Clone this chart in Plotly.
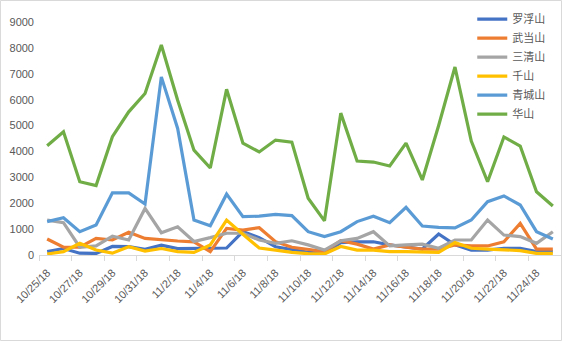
import plotly.graph_objects as go

dates = ["10/25/18","10/26/18","10/27/18","10/28/18","10/29/18","10/30/18","10/31/18",
         "11/1/18","11/2/18","11/3/18","11/4/18","11/5/18","11/6/18","11/7/18","11/8/18",
         "11/9/18","11/10/18","11/11/18","11/12/18","11/13/18","11/14/18","11/15/18",
         "11/16/18","11/17/18","11/18/18","11/19/18","11/20/18","11/21/18","11/22/18",
         "11/23/18","11/24/18","11/25/18"]

luofushan = [130, 250, 70, 60, 330, 320, 220, 380, 250, 250, 260, 270, 900, 670, 320, 200,
             100, 60, 480, 510, 510, 390, 300, 230, 810, 390, 190, 190, 260, 260, 130, 130]
wudangshan = [620, 300, 300, 640, 580, 875, 640, 580, 540, 510, 130, 1030, 965, 1055, 515, 300,
              230, 130, 550, 420, 230, 390, 300, 230, 230, 390, 350, 350, 510, 1220, 230, 230]
sanqingshan = [1350, 1250, 300, 350, 730, 580, 1800, 860, 1090, 520, 670, 840, 840, 580, 450, 550,
               390, 190, 550, 640, 900, 350, 390, 420, 260, 580, 580, 1350, 770, 710, 450, 900]
qianshan = [40, 130, 450, 190, 70, 320, 150, 250, 130, 100, 390, 1350, 800, 270, 190, 100,
            50, 40, 330, 190, 190, 130, 130, 100, 100, 480, 260, 230, 190, 170, 60, 60]
qingchengshan = [1290, 1440, 900, 1160, 2400, 2400, 1970, 6880, 4890, 1350, 1130, 2350, 1480, 1500, 1570, 1520,
                 900, 710, 900, 1290, 1500, 1250, 1840, 1120, 1070, 1050, 1350, 2060, 2280, 1930, 900, 620]
huashan = [4220, 4760, 2830, 2680, 4570, 5530, 6240, 8110, 5980, 4050, 3360, 6400, 4320, 3980, 4440, 4360,
           2190, 1320, 5480, 3630, 3590, 3440, 4320, 2900, 5000, 7260, 4400, 2830, 4560, 4210, 2440, 1890]

names = ["罗浮山", "武当山", "三清山", "千山", "青城山", "华山"]
series = [luofushan, wudangshan, sanqingshan, qianshan, qingchengshan, huashan]
colors = ["#4472C4", "#ED7D31", "#A5A5A5", "#FFC000", "#5B9BD5", "#70AD47"]

idx = list(range(len(dates)))

fig = go.Figure()
for n, s, c in zip(names, series, colors):
    fig.add_trace(go.Scatter(x=idx, y=s, name=n, mode="lines",
                             line=dict(color=c, width=3.2, shape="linear"),
                             hoverinfo="skip"))

label_idx = idx[::2]
fig.update_layout(
    width=563, height=342,
    margin=dict(l=39, r=2, t=22, b=87),
    paper_bgcolor="white", plot_bgcolor="white",
    font=dict(family="Liberation Sans, Arial, sans-serif", size=11, color="#595959"),
    showlegend=True,
    legend=dict(x=0.83, y=1.075, xanchor="left", yanchor="top",
                font=dict(family="Noto Sans CJK SC", size=11, color="#595959"),
                bgcolor="rgba(0,0,0,0)", tracegroupgap=0, itemwidth=30),
    xaxis=dict(range=[-0.5, len(dates) - 0.5], tickmode="array",
               tickvals=label_idx, ticktext=[dates[i] for i in label_idx],
               tickangle=-45, ticks="", showgrid=False, zeroline=False,
               showline=True, linecolor="#D9D9D9", linewidth=1,
               ticklabelstandoff=6,
               tickfont=dict(family="Liberation Sans, Arial, sans-serif", size=11, color="#595959"),
               minor=dict(tickmode="array",
                          tickvals=[i - 0.5 for i in range(0, len(dates) + 1, 2)],
                          ticks="outside", ticklen=5, tickcolor="#D9D9D9", tickwidth=1,
                          showgrid=False)),
    yaxis=dict(range=[0, 9000], dtick=1000, tick0=0, showgrid=False, zeroline=False,
               showline=False, ticks="", ticklabelstandoff=4,
               tickfont=dict(family="Liberation Sans, Arial, sans-serif", size=11, color="#595959")),
    shapes=[dict(type="rect", xref="paper", yref="paper",
                 x0=-0.0738, x1=1.001, y0=-0.367, y1=1.0923,
                 line=dict(color="#D9D9D9", width=1), fillcolor="rgba(0,0,0,0)", layer="below")],
)

fig.write_html("out.html")
